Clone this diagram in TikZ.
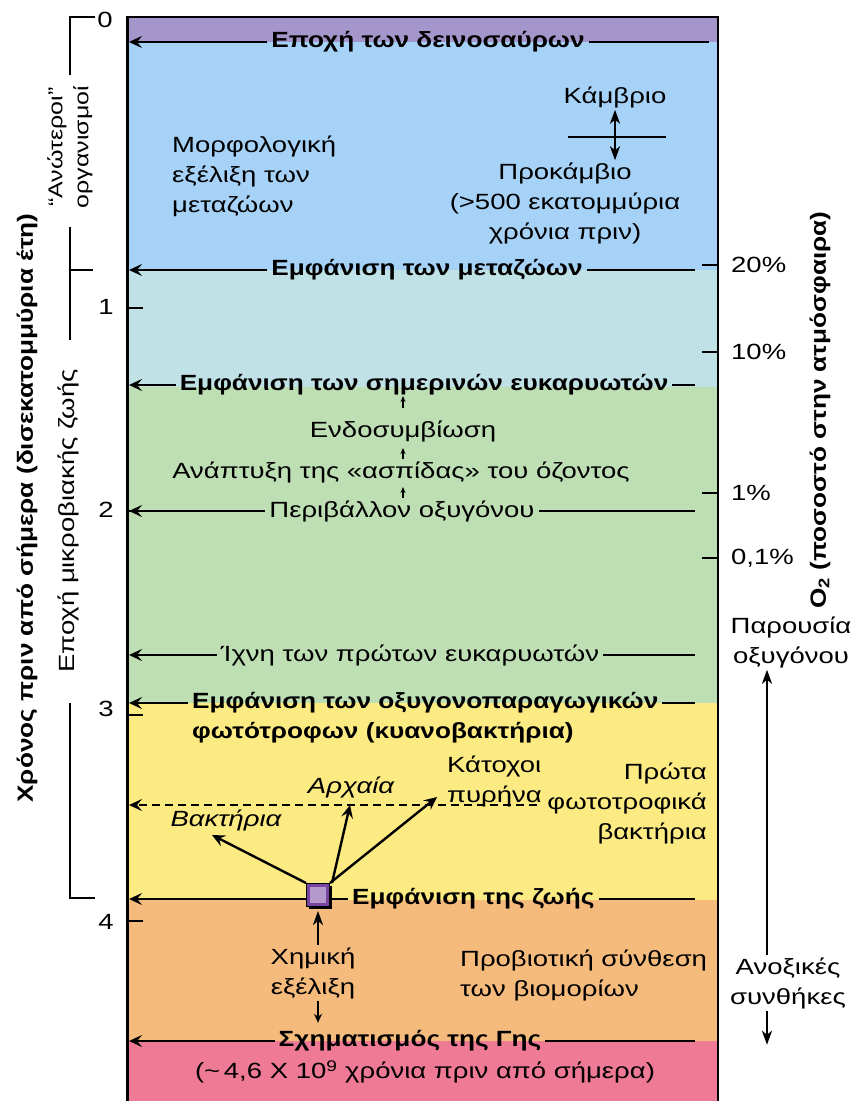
\documentclass[tikz,border=0pt]{standalone}
\usepackage{fontspec}
\setmainfont[FakeStretch=1.25]{Liberation Sans}
\newfontfamily\evtfont[FakeStretch=1.19]{Liberation Sans Bold}
\usetikzlibrary{arrows.meta,positioning,shadows}
\definecolor{eraPurple}{RGB}{164,150,202}
\definecolor{eraBlue}{RGB}{166,210,248}
\definecolor{eraCyan}{RGB}{192,226,230}
\definecolor{eraGreen}{RGB}{190,222,180}
\definecolor{eraYellow}{RGB}{252,234,130}
\definecolor{eraOrange}{RGB}{245,187,125}
\definecolor{eraPink}{RGB}{238,122,150}
\definecolor{cellPurple}{RGB}{120,70,160}

\begin{document}
\begin{tikzpicture}[
    x=1pt, y=-1pt,
    font=\fontsize{22}{30}\selectfont,
    evt/.style={font=\fontsize{22}{30}\selectfont\evtfont, inner sep=4pt},
    txt/.style={inner sep=2pt, align=center},
    arrow/.style={-{Stealth[length=13pt,width=12pt,inset=5pt]}, line width=2.4pt},
    rule/.style={line width=2.4pt},
    tick/.style={line width=2.4pt},
    brk/.style={line width=1.2pt},
    varrow/.style={-{Stealth[length=14pt,width=10pt,inset=4pt]}, line width=2.2pt},
    tinyarrow/.style={-{Stealth[length=6pt,width=5pt]}, line width=1.2pt},
    cell/.style={minimum size=23pt, inner sep=0pt, fill=cellPurple, draw=black, line width=1pt,
        drop shadow={shadow xshift=2.5pt, shadow yshift=-2.5pt, fill=black, opacity=1},
        path picture={\fill[cellPurple!55!white] ([shift={(3pt,-3pt)}]path picture bounding box.north west)
            rectangle ([shift={(-4pt,4pt)}]path picture bounding box.south east);}}
]
    \useasboundingbox (0,0) rectangle (854,1101);

    % Colour bands of the time scale
    \fill[eraPurple] (127,17) rectangle (718,42);
    \fill[eraBlue] (127,42) rectangle (718,270);
    \fill[eraCyan] (127,270) rectangle (718,387);
    \fill[eraGreen] (127,387) rectangle (718,703);
    \fill[eraYellow] (127,703) rectangle (718,900);
    \fill[eraOrange] (127,900) rectangle (718,1041);
    \fill[eraPink] (127,1041) rectangle (718,1101);
    \draw[line width=3pt] (127,1101) -- (127,17);
    \draw[line width=2pt] (126,17) -- (718,17) -- (718,1101);

    \coordinate (edgeL) at (129,0);
    \coordinate (edgeR) at (695,0);
    \coordinate (edgeRt) at (709,0);
    \coordinate (o2axis) at (767,0);

    % Time axis
    \node[txt] (t0) at (105,20) {0};
    \foreach \yy/\ly/\n in {308/307/1, 511/510/2, 715/709/3, 921/922/4} {
        \draw[tick] (127,\yy) -- (143,\yy);
        \node[txt] (t\n) at (106,\ly) {\n};
    }
    \node[evt, rotate=90] (ytitle) at (27,508) {Χρόνος πριν από σήμερα (δισεκατομμύρια έτη)};

    % Brackets
    \node[txt, rotate=90, font=\fontsize{20}{26}\selectfont] (higher) at (70,147) {“Ανώτεροι”\\οργανισμοί};
    \node[txt, rotate=90] (microb) at (68,521) {Εποχή μικροβιακής ζωής};
    \draw[brk] (95,17) -- (70,17) -- (70,75);
    \draw[brk] (70,227) -- (70,340);
    \draw[brk] (70,270) -- (93,270);
    \draw[brk] (70,703) -- (70,898) -- (95,898);

    % Oxygen axis
    \foreach \yy/\pc/\k in {265/20\%/a, 352/10\%/b, 493/1\%/c, 558/{0,1\%}/d} {
        \draw[tick] (702,\yy) -- (718,\yy);
        \node[txt, anchor=west] (pc\k) at (729,\yy) {\pc};
    }
    \node[evt, rotate=90] (o2title) at (820,410) {O\textsubscript{2} (ποσοστό στην ατμόσφαιρα)};
    \node[txt] (oxpres) at (791,642) {Παρουσία\\οξυγόνου};
    \node[txt] (anox) at (788,983) {Ανοξικές\\συνθήκες};
    \draw[varrow] (anox.north -| o2axis) -- (oxpres.south -| o2axis);
    \draw[varrow] (anox.south -| o2axis) -- ++(0,34);

    % Events
    \node[evt] (dino) at (428,42) {Εποχή των δεινοσαύρων};
    \draw[arrow] (dino.west) -- (dino.west -| edgeL);
    \draw[rule] (dino.east) -- (dino.east -| edgeRt);

    \node[txt, align=left, anchor=west] (morph) at (170,176) {Μορφολογική\\εξέλιξη των\\μεταζώων};
    \node[txt] (camb) at (615,97) {Κάμβριο};
    \node[txt] (precamb) at (565,203) {Προκάμβιο\\(>500 εκατομμύρια\\χρόνια πριν)};
    \draw[line width=1.2pt] (568,137) -- (666,137);
    \draw[{Stealth[length=14pt,width=10pt,inset=4pt]}-{Stealth[length=14pt,width=10pt,inset=4pt]}, line width=2pt]
        (camb.south) -- (precamb.north -| camb.south);

    \node[evt] (meta) at (427,270) {Εμφάνιση των μεταζώων};
    \draw[arrow] (meta.west) -- (meta.west -| edgeL);
    \draw[rule] (meta.east) -- (meta.east -| edgeR);

    \node[evt] (euk) at (424,385) {Εμφάνιση των σημερινών ευκαρυωτών};
    \draw[arrow] (euk.west) -- (euk.west -| edgeL);
    \draw[rule] (euk.east) -- (euk.east -| edgeR);

    \node[txt] (endo) at (403,431) {Ενδοσυμβίωση};
    \node[txt] (ozone) at (401,472) {Ανάπτυξη της «ασπίδας» του όζοντος};
    \node[txt, inner sep=4pt] (oxenv) at (402,511) {Περιβάλλον οξυγόνου};
    \draw[arrow] (oxenv.west) -- (oxenv.west -| edgeL);
    \draw[rule] (oxenv.east) -- (oxenv.east -| edgeR);
    \draw[tinyarrow] (403,408) -- (403,396);
    \draw[tinyarrow] (403,459) -- (403,448);
    \draw[tinyarrow] (403,498) -- (403,487);

    \node[txt, inner sep=4pt] (trace) at (410,655) {Ίχνη των πρώτων ευκαρυωτών};
    \draw[arrow] (trace.west) -- (trace.west -| edgeL);
    \draw[rule] (trace.east) -- (trace.east -| edgeR);

    \node[evt, anchor=west] (cyano) at (188,703) {Εμφάνιση των οξυγονοπαραγωγικών};
    \node[evt, anchor=west] (cyano2) at (188,733) {φωτότροφων (κυανοβακτήρια)};
    \draw[arrow] (cyano.west) -- (cyano.west -| edgeL);
    \draw[rule] (cyano.east) -- (cyano.east -| edgeR);

    \node[txt, align=left, anchor=west] (nucl) at (445,781) {Κάτοχοι\\πυρήνα};
    \coordinate (dashEnd) at (537,805);
    \draw[arrow, dashed, line width=1.2pt, dash pattern=on 8pt off 5pt] (dashEnd) -- (dashEnd -| edgeL);
    \node[txt, align=right, anchor=east] (photo) at (709,803) {Πρώτα\\φωτοτροφικά\\βακτήρια};
    \node[txt, font=\fontsize{22}{30}\selectfont\itshape] (arch) at (351,787) {Αρχαία};
    \node[txt, font=\fontsize{22}{30}\selectfont\itshape] (bact) at (226,820) {Βακτήρια};

    \node[evt, anchor=west] (zoe) at (348,899) {Εμφάνιση της ζωής};
    \draw[arrow] (zoe.west) -- (zoe.west -| edgeL);
    \draw[rule] (zoe.east) -- (zoe.east -| edgeR);
    \node[cell] (life) at (318,895) {};
    \coordinate (bactTip) at (212,835);
    \coordinate (archTip) at (350,805);
    \coordinate (nuclTip) at (437,797);
    \draw[arrow] (life.north west) -- (bactTip);
    \draw[arrow] ([shift={(2pt,0pt)}]life.north east) -- (archTip);
    \draw[arrow] (life.north east) -- (nuclTip);

    \node[txt] (chem) at (313,973) {Χημική\\εξέλιξη};
    \draw[varrow] (chem.north -| life) -- ([yshift=-4pt]life.south);
    \draw[-{Stealth[length=9pt,width=8pt,inset=3pt]}, line width=1.6pt] (chem.south -| life) -- ++(0,22);
    \node[txt, align=left, anchor=west] (prebio) at (458,975) {Προβιοτική σύνθεση\\των βιομορίων};

    \node[evt] (earth) at (410,1041) {Σχηματισμός της Γης};
    \draw[arrow] (earth.west) -- (earth.west -| edgeL);
    \draw[rule] (earth.east) -- (earth.east -| edgeR);
    \node[txt] (earthage) at (425,1072) {(\textasciitilde\,4,6 X 10\textsuperscript{9} χρόνια πριν από σήμερα)};
\end{tikzpicture}
\end{document}
